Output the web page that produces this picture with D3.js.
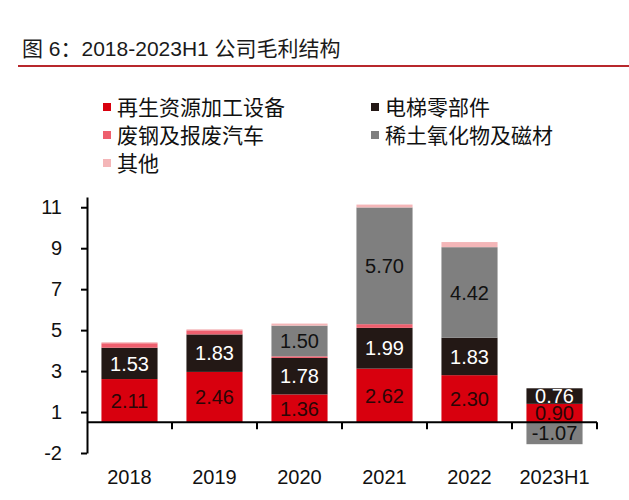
<!DOCTYPE html>
<html>
<head>
<meta charset="utf-8">
<script src="https://cdn.jsdelivr.net/npm/d3@7"></script>
<style>
  body { margin: 0; background: #fff; }
  svg text { font-family: "Liberation Sans", Arial, "Noto Sans CJK SC", sans-serif; }
</style>
</head>
<body>
<div id="chart"></div>
<script>
// 2018-2023H1 gross profit structure (亿元)
const years = ["2018", "2019", "2020", "2021", "2022", "2023H1"];
const recycleEquip = [2.11, 2.46, 1.36, 2.62, 2.30, 0.90];   // 再生资源加工设备
const elevatorParts = [1.53, 1.83, 1.78, 1.99, 1.83, 0.76];  // 电梯零部件
const scrapSteel = [0.22, 0.20, 0.08, 0.18, 0.00, 0.00];     // 废钢及报废汽车
const rareEarth = [0.00, 0.00, 1.50, 5.70, 4.42, -1.07];     // 稀土氧化物及磁材
const others = [0.05, 0.05, 0.10, 0.14, 0.25, 0.00];         // 其他

const seriesNames = ["再生资源加工设备", "电梯零部件", "废钢及报废汽车", "稀土氧化物及磁材", "其他"];
const seriesColors = ["#d8000e", "#231815", "#ee5f6e", "#7f7f7f", "#f4b6b8"];
const labelColors = ["#2b0606", "#ffffff", null, "#111111", null];

// excel axis: min -1.5, major unit 2, labels rounded to integers
const yTickValues = [-1.5, 0.5, 2.5, 4.5, 6.5, 8.5, 10.5];
const yTickLabels = ["-2", "1", "3", "5", "7", "9", "11"];

const width = 629;
const height = 500;

const svg = d3.select("#chart").append("svg")
    .attr("width", width)
    .attr("height", height);

// title + red rule
svg.append("text")
    .attr("x", 22)
    .attr("y", 56)
    .attr("font-size", 21)
    .attr("fill", "#1a1a1a")
    .text("图 6：2018-2023H1 公司毛利结构");

svg.append("line")
    .attr("x1", 18).attr("x2", width)
    .attr("y1", 66).attr("y2", 66)
    .attr("stroke", "#b8282c")
    .attr("stroke-width", 2);

// legend (two columns, filled row by row)
const legend = svg.append("g");
seriesNames.forEach((name, i) => {
    const col = i % 2, row = Math.floor(i / 2);
    const gx = col === 0 ? 103 : 371;
    const gy = 107 + row * 28;
    const item = legend.append("g").attr("transform", `translate(${gx},${gy})`);
    item.append("rect")
        .attr("x", 0).attr("y", -4)
        .attr("width", 8).attr("height", 8)
        .attr("fill", seriesColors[i]);
    item.append("text")
        .attr("x", 14)
        .attr("y", 0)
        .attr("dy", "0.36em")
        .attr("font-size", 21)
        .attr("fill", "#111")
        .text(name);
});

// data table for the stack
const table = years.map((year, i) => ({
    year: year,
    s0: recycleEquip[i],
    s1: elevatorParts[i],
    s2: scrapSteel[i],
    s3: rareEarth[i],
    s4: others[i]
}));
const keys = ["s0", "s1", "s2", "s3", "s4"];

const stacked = d3.stack()
    .keys(keys)
    .offset(d3.stackOffsetDiverging)(table);

const x = d3.scaleBand()
    .domain(years)
    .range([87, 597])
    .paddingInner(0.34)
    .paddingOuter(0.17);

const y = d3.scaleLinear()
    .domain([-1.5, 11])
    .range([453, 197]);

// bars
const layers = svg.append("g").selectAll("g")
    .data(stacked)
    .join("g")
    .attr("fill", (d, i) => seriesColors[i]);

layers.selectAll("rect")
    .data(d => d)
    .join("rect")
    .attr("x", d => x(d.data.year))
    .attr("width", x.bandwidth())
    .attr("y", d => y(Math.max(d[0], d[1])))
    .attr("height", d => Math.abs(y(d[0]) - y(d[1])));

// value labels
stacked.forEach((layer, i) => {
    if (!labelColors[i]) return;
    svg.append("g").selectAll("text")
        .data(layer.filter(d => Math.abs(d[1] - d[0]) >= 0.5))
        .join("text")
        .attr("x", d => x(d.data.year) + x.bandwidth() / 2)
        .attr("y", d => y((d[0] + d[1]) / 2))
        .attr("dy", "0.36em")
        .attr("text-anchor", "middle")
        .attr("font-size", 20)
        .attr("fill", labelColors[i])
        .text(d => d.data[layer.key].toFixed(2));
});

// y axis
const yAxis = svg.append("g")
    .attr("transform", "translate(87,0)")
    .call(d3.axisLeft(y)
        .tickValues(yTickValues)
        .tickFormat((d, i) => yTickLabels[i])
        .tickSize(6)
        .tickSizeOuter(0)
        .tickPadding(19));
yAxis.selectAll("path, line").attr("stroke", "#000").attr("stroke-width", 2);
yAxis.selectAll("text").attr("font-size", 20).attr("fill", "#111")
    .style("font-family", "'Liberation Sans', Arial, sans-serif");

// x axis at zero, with tick marks between categories
const y0 = y(0);
svg.append("line")
    .attr("x1", x.range()[0]).attr("x2", x.range()[1])
    .attr("y1", y0).attr("y2", y0)
    .attr("stroke", "#000")
    .attr("stroke-width", 2);

svg.append("g").selectAll("line")
    .data(years)
    .join("line")
    .attr("x1", (d, i) => x.range()[0] + (i + 1) * x.step())
    .attr("x2", (d, i) => x.range()[0] + (i + 1) * x.step())
    .attr("y1", y0)
    .attr("y2", y0 + 7)
    .attr("stroke", "#000")
    .attr("stroke-width", 2);

// category labels under the plot
const xAxis = svg.append("g")
    .attr("transform", "translate(0,453)")
    .call(d3.axisBottom(x).tickSize(0).tickPadding(17));
xAxis.select(".domain").remove();
xAxis.selectAll("text").attr("font-size", 20).attr("fill", "#111")
    .style("font-family", "'Liberation Sans', Arial, sans-serif");
</script>
</body>
</html>
